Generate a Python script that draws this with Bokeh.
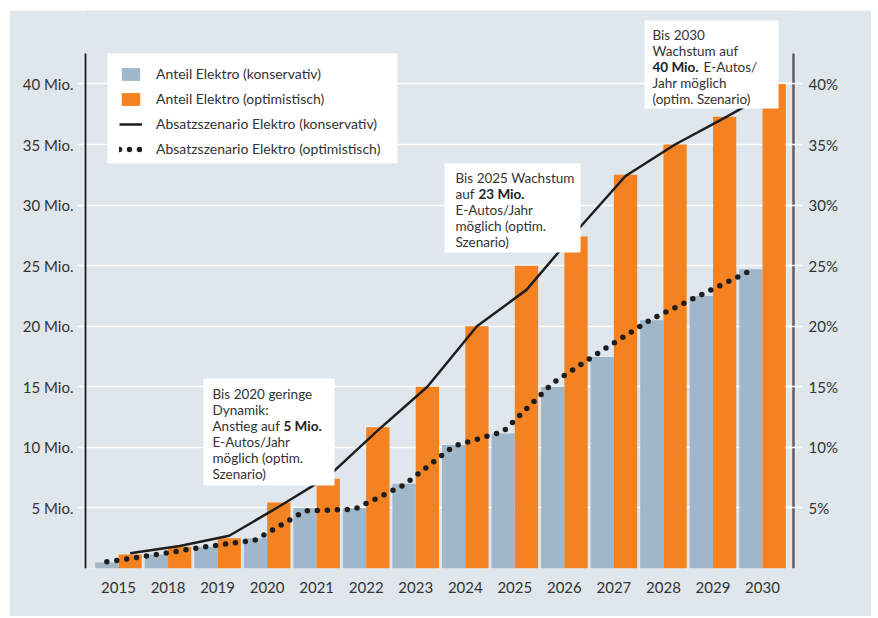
from bokeh.plotting import figure
from bokeh.models import (Range1d, LinearAxis, FixedTicker, PrintfTickFormatter,
                          Legend, LegendItem)
from bokeh.core.properties import value
from bokeh.embed import file_html
from bokeh.resources import INLINE

# ---------------- data ----------------
years = ["2015", "2018", "2019", "2020", "2021", "2022", "2023", "2024",
         "2025", "2026", "2027", "2028", "2029", "2030"]
share_conservative = [0.5, 1.15, 1.8, 2.5, 5.0, 5.0, 7.0, 10.2, 11.15, 15.0,
                      17.45, 20.5, 22.5, 24.7]
share_optimistic = [1.15, 1.8, 2.5, 5.45, 7.4, 11.65, 15.0, 20.0, 25.0, 27.4,
                    32.5, 35.0, 37.3, 40.0]
sales_conservative = [1.25, 1.85, 2.7, 5.1, 7.6, 11.4, 15.0, 20.0, 23.0, 27.8,
                      32.4, 35.0, 37.2, 39.5]
sales_optimistic = [0.55, 1.15, 1.8, 2.35, 4.75, 4.9, 6.9, 10.1, 11.3, 15.3,
                    18.0, 20.6, 22.6, 24.6]
y_ticks = [5, 10, 15, 20, 25, 30, 35, 40]
legend_labels = ["Anteil Elektro (konservativ)",
                 "Anteil Elektro (optimistisch)",
                 "Absatzszenario Elektro (konservativ)",
                 "Absatzszenario Elektro (optimistisch)"]

# ---------------- styles ----------------
BG = "#dfe6ec"
BLUE = "#a0b7c9"
ORANGE = "#f58220"
TXT = "#333333"
FONT = "Lato"

idx = list(range(len(years)))

# pixel helpers (page px; frame: x 83..795, y 10..568)
X0, XS = 118.0, 49.54
Y0, YS = 568.0, 12.114
def dx(px):
    return (px - X0) / XS
def dy(py):
    return (Y0 - py) / YS

p = figure(frame_width=712, frame_height=558,
           min_border_left=74, min_border_right=76,
           min_border_top=0, min_border_bottom=48,
           x_range=Range1d(dx(83), dx(795)), y_range=Range1d(0, dy(10)),
           output_backend="svg", toolbar_location=None,
           background_fill_color=BG, border_fill_color=BG,
           outline_line_color=None)
p.margin = (10, 0, 0, 9)

# x axis
xa = p.xaxis[0]
xa.ticker = FixedTicker(ticks=idx)
xa.major_label_overrides = {i: y for i, y in zip(idx, years)}
xa.axis_line_color = None
xa.major_tick_line_color = None
xa.minor_tick_line_color = None
xa.major_label_text_font = FONT
xa.major_label_text_font_size = "15px"
xa.major_label_text_color = TXT
xa.major_label_standoff = 7

# left axis
ya = p.yaxis[0]
ya.ticker = FixedTicker(ticks=y_ticks)
ya.formatter = PrintfTickFormatter(format="%d Mio.")
ya.axis_line_color = None
ya.major_tick_line_color = "white"
ya.major_tick_line_width = 1.5
ya.major_tick_out = 6
ya.major_tick_in = 0
ya.minor_tick_line_color = None
ya.major_label_text_font = FONT
ya.major_label_text_font_size = "15px"
ya.major_label_text_color = TXT
ya.major_label_standoff = 4

# right axis
ra = LinearAxis(ticker=FixedTicker(ticks=y_ticks),
                formatter=PrintfTickFormatter(format="%d%%"))
ra.axis_line_color = None
ra.major_tick_line_color = "white"
ra.major_tick_line_width = 1.5
ra.major_tick_out = 7
ra.major_tick_in = 10
ra.minor_tick_line_color = None
ra.major_label_text_font = FONT
ra.major_label_text_font_size = "15px"
ra.major_label_text_color = TXT
ra.major_label_standoff = 6
p.add_layout(ra, "right")

p.xgrid.visible = False
p.ygrid.ticker = FixedTicker(ticks=y_ticks)
p.ygrid.grid_line_color = "white"
p.ygrid.grid_line_width = 1.5

# legend background panel
p.quad(left=[dx(107)], right=[dx(397)], top=[dy(53)], bottom=[dy(163)],
       fill_color="white", line_color=None)

# bars
off = 0.235
bw = 0.47
r_blue = p.vbar(x=[i - off for i in idx], top=share_conservative, width=bw,
                fill_color=BLUE, line_color=None)
r_orange = p.vbar(x=[i + off for i in idx], top=share_optimistic, width=bw,
                  fill_color=ORANGE, line_color=None)

# lines
r_solid = p.line(x=[i + off for i in idx], y=sales_conservative,
                 line_color="#1e1e1e", line_width=2.5)
r_dot = p.line(x=[i - off for i in idx], y=sales_optimistic,
               line_color="#1e1e1e", line_width=5.5, line_dash="0 10",
               line_cap="round")

# annotation boxes
boxes = [(203, 334, 378, 485), (444, 580, 163, 252), (644, 778, 20, 108)]
p.quad(left=[dx(b[0]) for b in boxes], right=[dx(b[1]) for b in boxes],
       top=[dy(b[2]) for b in boxes], bottom=[dy(b[3]) for b in boxes],
       fill_color="white", line_color=None)

normal = [
    (212, 393, "Bis 2020 geringe"), (212, 409, "Dynamik:"),
    (212, 425, "Anstieg auf"), (212, 441, "E-Autos/Jahr"),
    (212, 457, "möglich (optim."), (212, 473, "Szenario)"),
    (455, 177, "Bis 2025 Wachstum"), (455, 193, "auf"),
    (455, 209, "E-Autos/Jahr"), (455, 225, "möglich (optim."),
    (455, 241, "Szenario)"),
    (652, 34, "Bis 2030"), (652, 50, "Wachstum auf"),
    (703, 66, "E-Autos/"), (652, 82, "Jahr möglich"),
    (652, 98, "(optim. Szenario)"),
]
bold = [(283, 425, "5 Mio."), (478, 193, "23 Mio."), (652, 66, "40 Mio.")]
p.text(x=[dx(t[0]) for t in normal], y=[dy(t[1]) for t in normal],
       text=[t[2] for t in normal], text_font=value(FONT),
       text_font_size="13.5px", text_color=TXT, text_baseline="middle",
       text_align="left")
p.text(x=[dx(t[0]) for t in bold], y=[dy(t[1]) for t in bold],
       text=[t[2] for t in bold], text_font=value(FONT),
       text_font_size="13.5px", text_font_style="bold", text_color="#222222",
       text_baseline="middle", text_align="left")

# axis lines (drawn as segments so they stop below the top of the panel)
p.segment(x0=[dx(85)], y0=[0], x1=[dx(85)], y1=[dy(53)],
          line_color="#1e1e1e", line_width=1.8)
p.segment(x0=[dx(793)], y0=[0], x1=[dx(793)], y1=[dy(53)],
          line_color="#5f5f64", line_width=2.5)

legend = Legend(items=[LegendItem(label=legend_labels[0], renderers=[r_blue]),
                       LegendItem(label=legend_labels[1], renderers=[r_orange]),
                       LegendItem(label=legend_labels[2], renderers=[r_solid]),
                       LegendItem(label=legend_labels[3], renderers=[r_dot])],
                location=(36, 411))
legend.background_fill_alpha = 0.0
legend.border_line_color = None
legend.margin = 0
legend.spacing = 8
legend.glyph_width = 23
legend.glyph_height = 16
legend.label_height = 16
legend.label_standoff = 14
legend.label_text_font = FONT
legend.label_text_font_size = "14px"
legend.label_text_color = TXT
p.add_layout(legend)

open("out.html", "w").write(file_html(p, INLINE))
